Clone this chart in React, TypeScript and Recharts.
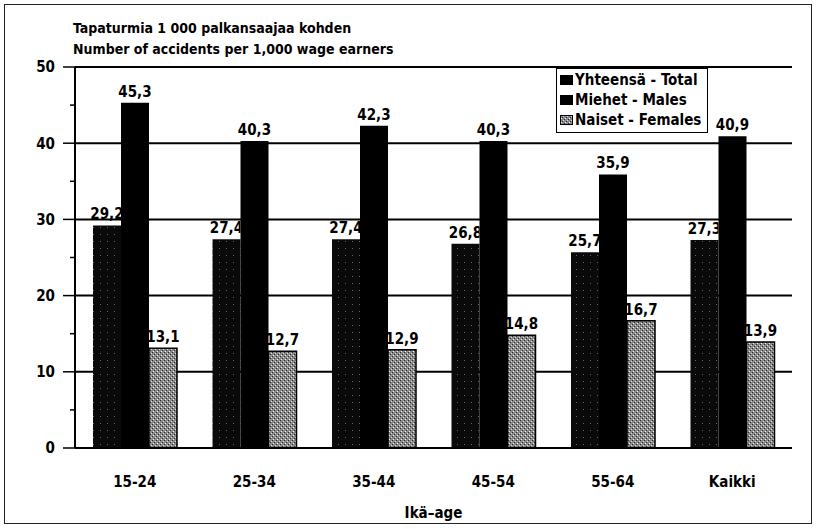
import React from "react";
import { BarChart, Bar, XAxis, YAxis, CartesianGrid, Legend, LabelList } from "recharts";

const categories = ["15-24", "25-34", "35-44", "45-54", "55-64", "Kaikki"];
const totalValues = [29.2, 27.4, 27.4, 26.8, 25.7, 27.3];
const maleValues = [45.3, 40.3, 42.3, 40.3, 35.9, 40.9];
const femaleValues = [13.1, 12.7, 12.9, 14.8, 16.7, 13.9];
const yTicks = [0, 5, 10, 15, 20, 25, 30, 35, 40, 45, 50];
const gridValues = [10, 20, 30, 40, 50];

const FONT = "'Liberation Sans Narrow', 'DejaVu Sans Condensed', 'Arial Narrow', sans-serif";

const data = categories.map((name, i) => ({
    name,
    total: totalValues[i],
    males: maleValues[i],
    females: femaleValues[i],
}));

const fmt = (v: any) => Number(v).toFixed(1).replace(".", ",");

const legendItems = [
    { label: "Yhteensä - Total", fill: "#000" },
    { label: "Miehet - Males", fill: "#000" },
    { label: "Naiset - Females", fill: "url(#femPat)" },
];

const ChartLegend = () => (
    <div style={{ background: "#fff", border: "1.5px solid #000", padding: "1px 6px 2px 3px", fontFamily: FONT, fontWeight: 700, fontSize: 15, lineHeight: "20px" }}>
        {legendItems.map((it) => (
            <div key={it.label} style={{ display: "flex", alignItems: "center" }}>
                <svg width={14} height={11} style={{ marginRight: 1 }}>
                    <rect x={0.5} y={0.5} width={12} height={9} fill={it.fill} stroke="#000" />
                </svg>
                <span>{it.label}</span>
            </div>
        ))}
    </div>
);

// y ticks: long tick + label on multiples of 10, short tick otherwise
const YTick = ({ x, y, payload }: any) => {
    const major = payload.value % 10 === 0;
    return (
        <g>
            <line x1={x - (major ? 12 : 5)} x2={x} y1={y} y2={y} stroke="#000" strokeWidth={1.5} />
            {major && (
                <text x={x - 20} y={y} dy="0.36em" textAnchor="end" fill="#000" fontFamily={FONT} fontWeight={700} fontSize={15}>
                    {payload.value}
                </text>
            )}
        </g>
    );
};

// label of the total bar is partly hidden behind the males bar, as in the print
const TotalLabel = ({ x, y, width, value, index }: any) => {
    const id = `totClip${index}`;
    return (
        <g>
            <clipPath id={id}>
                <rect x={x - 40} y={y - 40} width={width + 40} height={40} />
            </clipPath>
            <text x={x + width / 2} y={y - 6} textAnchor="middle" clipPath={`url(#${id})`} fill="#000" fontFamily={FONT} fontWeight={700} fontSize={15}>
                {fmt(value)}
            </text>
        </g>
    );
};

function App() {
    return (
        <div style={{ position: "absolute", left: 0, top: 0, width: 816, height: 529, background: "#fff" }}>
            <div style={{ position: "absolute", left: 4, top: 4, width: 806, height: 518, border: "1.5px solid #222" }} />
            <div style={{ position: "absolute", left: 73, top: 18, fontFamily: FONT, fontWeight: 700, fontSize: 14, lineHeight: "21px", color: "#000" }}>
                <div>Tapaturmia 1 000 palkansaajaa kohden</div>
                <div>Number of accidents per 1,000 wage earners</div>
            </div>
            <div style={{ position: "absolute", left: 0, top: 0 }}>
                <BarChart
                    width={816}
                    height={529}
                    data={data}
                    margin={{ top: 67, right: 24, left: 0, bottom: 0 }}
                    barSize={28}
                    barGap={0}
                >
                    <defs>
                        <pattern id="femPat" width={4} height={4} patternUnits="userSpaceOnUse">
                            <rect width={4} height={4} fill="#8a8a8a" />
                            <rect x={0} y={0} width={1} height={1} fill="#2a2a2a" />
                            <rect x={2} y={2} width={1} height={1} fill="#2a2a2a" />
                            <rect x={1} y={3} width={1} height={1} fill="#f4f4f4" />
                            <rect x={3} y={1} width={1} height={1} fill="#d8d8d8" />
                        </pattern>
                        <pattern id="totPat" width={7} height={7} patternUnits="userSpaceOnUse">
                            <rect width={7} height={7} fill="#0a0a0a" />
                            <rect x={2} y={3} width={1} height={1} fill="#666" />
                        </pattern>
                    </defs>
                    <CartesianGrid horizontalValues={gridValues} vertical={false} stroke="#000" strokeWidth={2} />
                    <XAxis
                        dataKey="name"
                        height={81}
                        tickLine={false}
                        tickSize={0}
                        tickMargin={28}
                        axisLine={{ stroke: "#000", strokeWidth: 2 }}
                        tick={{ fill: "#000", fontFamily: FONT, fontWeight: 700, fontSize: 15 }}
                        label={{ value: "Ikä–age", position: "insideBottom", offset: 11, fill: "#000", fontFamily: FONT, fontWeight: 700, fontSize: 15 }}
                    />
                    <YAxis
                        width={75}
                        domain={[0, 50]}
                        ticks={yTicks}
                        interval={0}
                        tickSize={0}
                        tickMargin={0}
                        tickLine={false}
                        axisLine={{ stroke: "#000", strokeWidth: 2 }}
                        tick={<YTick />}
                    />
                    <YAxis
                        yAxisId="frame"
                        orientation="right"
                        width={0}
                        domain={[0, 50]}
                        tick={false}
                        tickLine={false}
                        axisLine={{ stroke: "#000", strokeWidth: 2 }}
                    />
                    <Legend
                        layout="vertical"
                        align="center"
                        verticalAlign="middle"
                        content={<ChartLegend />}
                        wrapperStyle={{ position: "absolute", left: 556, top: 68, width: "auto" }}
                    />
                    <Bar dataKey="total" name="Yhteensä - Total" fill="url(#totPat)" isAnimationActive={false}>
                        <LabelList dataKey="total" content={<TotalLabel />} />
                    </Bar>
                    <Bar dataKey="males" name="Miehet - Males" fill="#000" isAnimationActive={false}>
                        <LabelList dataKey="males" position="top" offset={6} formatter={fmt} fill="#000" fontFamily={FONT} fontWeight={700} fontSize={15} />
                    </Bar>
                    <Bar dataKey="females" name="Naiset - Females" fill="url(#femPat)" stroke="#000" strokeWidth={1.5} isAnimationActive={false}>
                        <LabelList dataKey="females" position="top" offset={6} formatter={fmt} fill="#000" fontFamily={FONT} fontWeight={700} fontSize={15} />
                    </Bar>
                </BarChart>
            </div>
        </div>
    );
}

export default App;
